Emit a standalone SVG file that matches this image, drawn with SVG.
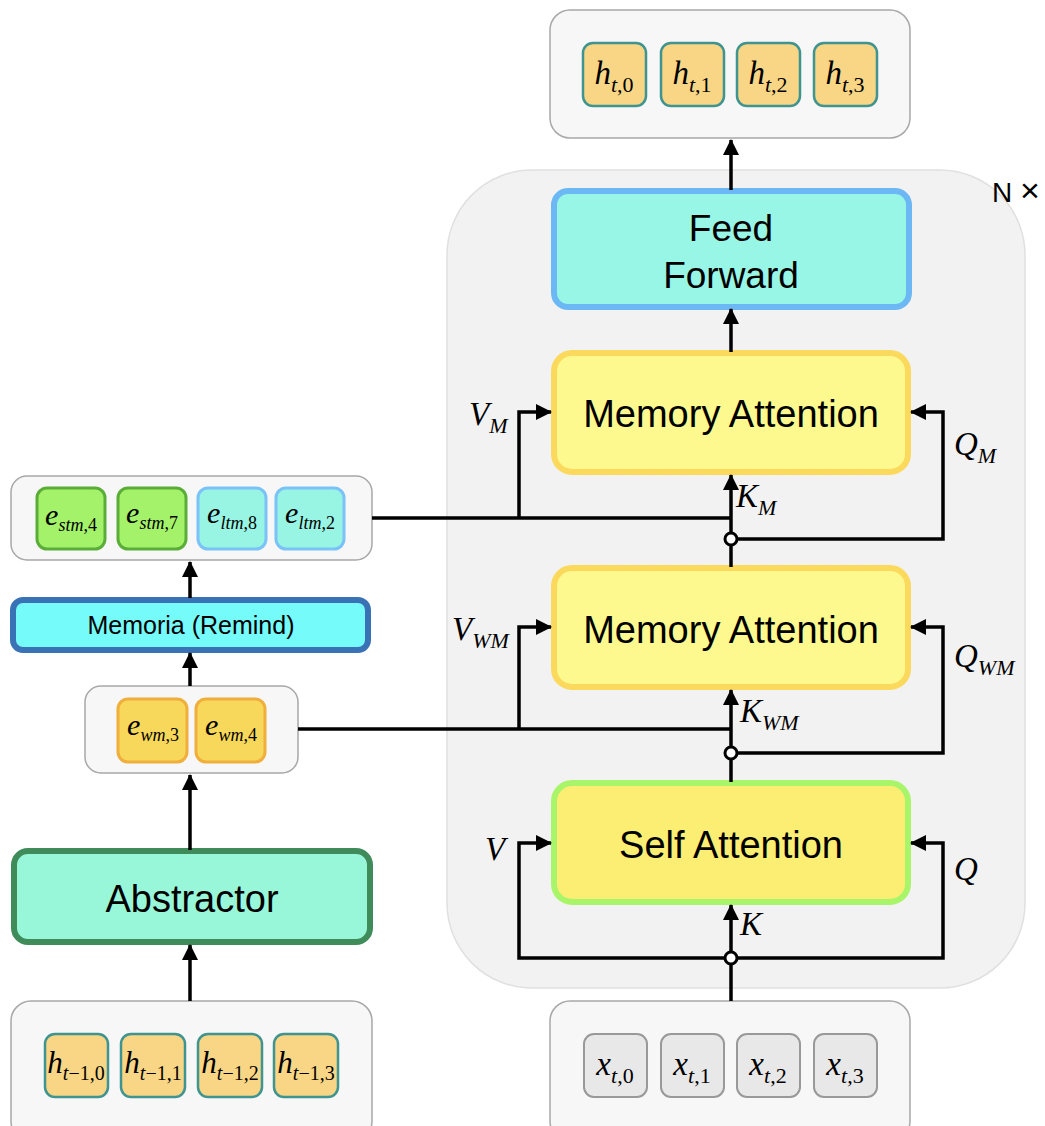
<svg xmlns="http://www.w3.org/2000/svg" width="1045" height="1126" viewBox="0 0 1045 1126">
<defs>
<marker id="ah" markerUnits="userSpaceOnUse" markerWidth="18" markerHeight="16" refX="15" refY="8" orient="auto">
<path d="M0,0 L16,8 L0,16 z" fill="#000"/>
</marker>
<style>
.cont{fill:#f7f7f7;stroke:#a8a8a8;stroke-width:1.5}
.tokh{fill:#f8d686;stroke:#3f9490;stroke-width:2.5}
.tokx{fill:#e8e8e8;stroke:#999;stroke-width:2}
.toks{fill:#a4f26a;stroke:#5aae38;stroke-width:3}
.tokl{fill:#98f5e4;stroke:#7ac2f7;stroke-width:3}
.tokw{fill:#f8d85a;stroke:#f0ae3c;stroke-width:3}
.ma{fill:#fdf98f;stroke:#fbd95c;stroke-width:6}
.sa{fill:#fbee73;stroke:#a8f56a;stroke-width:6}
.ff{fill:#98f6e6;stroke:#6cb8f5;stroke-width:6}
.sans{font-family:"Liberation Sans",Arial,sans-serif;fill:#000}
.m{font-family:"Liberation Serif","Times New Roman",serif;fill:#000}
.it{font-style:italic}
.ln{fill:none;stroke:#000;stroke-width:3.5}
.arr{fill:none;stroke:#000;stroke-width:3.5;marker-end:url(#ah)}
.dot{fill:#fff;stroke:#000;stroke-width:3}
</style>
</defs>

<g id="panel">
<rect x="447" y="170" width="578" height="818" rx="85" fill="#f2f2f2" stroke="#e0e0e0" stroke-width="1.5"/>
<text x="992" y="202" class="sans" font-size="28">N <tspan font-size="34">×</tspan></text>
</g>

<g id="output">
<rect class="cont" x="550" y="10" width="360" height="128" rx="20"/>
<rect class="tokh" x="583" y="43" width="63" height="63" rx="10"/>
<rect class="tokh" x="661" y="43" width="63" height="63" rx="10"/>
<rect class="tokh" x="737" y="43" width="63" height="63" rx="10"/>
<rect class="tokh" x="814" y="43" width="63" height="63" rx="10"/>
<text class="m" font-size="33" text-anchor="middle" x="614" y="84"><tspan class="it">h</tspan><tspan font-size="22" dy="8"><tspan class="it">t</tspan>,0</tspan></text>
<text class="m" font-size="33" text-anchor="middle" x="692" y="84"><tspan class="it">h</tspan><tspan font-size="22" dy="8"><tspan class="it">t</tspan>,1</tspan></text>
<text class="m" font-size="33" text-anchor="middle" x="768" y="84"><tspan class="it">h</tspan><tspan font-size="22" dy="8"><tspan class="it">t</tspan>,2</tspan></text>
<text class="m" font-size="33" text-anchor="middle" x="845" y="84"><tspan class="it">h</tspan><tspan font-size="22" dy="8"><tspan class="it">t</tspan>,3</tspan></text>
</g>

<g id="feedforward">
<rect class="ff" x="554" y="191" width="355" height="116" rx="14"/>
<text class="sans" font-size="37" text-anchor="middle" x="731" y="241">Feed</text>
<text class="sans" font-size="37" text-anchor="middle" x="731" y="288">Forward</text>
</g>

<g id="memattn1">
<rect class="ma" x="554" y="353" width="354" height="119" rx="18"/>
<text class="sans" font-size="38" text-anchor="middle" x="731" y="427">Memory Attention</text>
</g>

<g id="memattn2">
<rect class="ma" x="554" y="568" width="354" height="119" rx="18"/>
<text class="sans" font-size="38" text-anchor="middle" x="731" y="643">Memory Attention</text>
</g>

<g id="selfattn">
<rect class="sa" x="554" y="783" width="354" height="119" rx="18"/>
<text class="sans" font-size="38" text-anchor="middle" x="731" y="858">Self Attention</text>
</g>

<g id="memory">
<rect class="cont" x="11" y="476" width="361" height="84" rx="16"/>
<rect class="toks" x="37" y="488" width="68" height="61" rx="10"/>
<rect class="toks" x="118" y="488" width="68" height="61" rx="10"/>
<rect class="tokl" x="198" y="488" width="68" height="61" rx="10"/>
<rect class="tokl" x="276" y="488" width="68" height="61" rx="10"/>
<text class="m" font-size="30" text-anchor="middle" x="71" y="525"><tspan class="it">e</tspan><tspan font-size="18" dy="6"><tspan class="it">stm</tspan>,4</tspan></text>
<text class="m" font-size="30" text-anchor="middle" x="152" y="523"><tspan class="it">e</tspan><tspan font-size="18" dy="6"><tspan class="it">stm</tspan>,7</tspan></text>
<text class="m" font-size="30" text-anchor="middle" x="232" y="523"><tspan class="it">e</tspan><tspan font-size="18" dy="6"><tspan class="it">ltm</tspan>,8</tspan></text>
<text class="m" font-size="30" text-anchor="middle" x="310" y="523"><tspan class="it">e</tspan><tspan font-size="18" dy="6"><tspan class="it">ltm</tspan>,2</tspan></text>
</g>

<g id="memoria">
<rect x="13" y="600" width="355" height="50" rx="10" fill="#76fbfb" stroke="#3a72b6" stroke-width="6"/>
<text class="sans" font-size="25" text-anchor="middle" x="191" y="634">Memoria (Remind)</text>
</g>

<g id="workingmem">
<rect class="cont" x="85" y="686" width="213" height="87" rx="16"/>
<rect class="tokw" x="118" y="699" width="69" height="63" rx="10"/>
<rect class="tokw" x="196" y="699" width="69" height="63" rx="10"/>
<text class="m" font-size="30" text-anchor="middle" x="153" y="735"><tspan class="it">e</tspan><tspan font-size="18" dy="6"><tspan class="it">wm</tspan>,3</tspan></text>
<text class="m" font-size="30" text-anchor="middle" x="231" y="735"><tspan class="it">e</tspan><tspan font-size="18" dy="6"><tspan class="it">wm</tspan>,4</tspan></text>
</g>

<g id="abstractor">
<rect x="14" y="851" width="356" height="91" rx="14" fill="#98f7d8" stroke="#3f8c5a" stroke-width="6"/>
<text class="sans" font-size="38" text-anchor="middle" x="192" y="912">Abstractor</text>
</g>

<g id="prevhidden">
<rect class="cont" x="11" y="1001" width="361" height="140" rx="20"/>
<rect class="tokh" x="45" y="1034" width="63" height="63" rx="10"/>
<rect class="tokh" x="121" y="1034" width="64" height="63" rx="10"/>
<rect class="tokh" x="198" y="1034" width="64" height="63" rx="10"/>
<rect class="tokh" x="274" y="1034" width="64" height="63" rx="10"/>
<text class="m" font-size="31" text-anchor="middle" x="76" y="1073"><tspan class="it">h</tspan><tspan font-size="20" dy="7"><tspan class="it">t</tspan>−1,0</tspan></text>
<text class="m" font-size="31" text-anchor="middle" x="153" y="1073"><tspan class="it">h</tspan><tspan font-size="20" dy="7"><tspan class="it">t</tspan>−1,1</tspan></text>
<text class="m" font-size="31" text-anchor="middle" x="230" y="1073"><tspan class="it">h</tspan><tspan font-size="20" dy="7"><tspan class="it">t</tspan>−1,2</tspan></text>
<text class="m" font-size="31" text-anchor="middle" x="306" y="1073"><tspan class="it">h</tspan><tspan font-size="20" dy="7"><tspan class="it">t</tspan>−1,3</tspan></text>
</g>

<g id="input">
<rect class="cont" x="550" y="1001" width="360" height="140" rx="20"/>
<rect class="tokx" x="584" y="1034" width="63" height="63" rx="10"/>
<rect class="tokx" x="661" y="1034" width="63" height="63" rx="10"/>
<rect class="tokx" x="737" y="1034" width="63" height="63" rx="10"/>
<rect class="tokx" x="814" y="1034" width="63" height="63" rx="10"/>
<text class="m" font-size="33" text-anchor="middle" x="615" y="1075"><tspan class="it">x</tspan><tspan font-size="22" dy="8"><tspan class="it">t</tspan>,0</tspan></text>
<text class="m" font-size="33" text-anchor="middle" x="692" y="1075"><tspan class="it">x</tspan><tspan font-size="22" dy="8"><tspan class="it">t</tspan>,1</tspan></text>
<text class="m" font-size="33" text-anchor="middle" x="768" y="1075"><tspan class="it">x</tspan><tspan font-size="22" dy="8"><tspan class="it">t</tspan>,2</tspan></text>
<text class="m" font-size="33" text-anchor="middle" x="845" y="1075"><tspan class="it">x</tspan><tspan font-size="22" dy="8"><tspan class="it">t</tspan>,3</tspan></text>
</g>

<g id="connectors">
<path class="arr" d="M731,190 L731,140"/>
<path class="arr" d="M731,352 L731,309"/>
<path class="ln" d="M372,518 L731,518"/>
<path class="arr" d="M731,539 L731,475"/>
<path class="arr" d="M519,518 L519,412 L551,412"/>
<path class="arr" d="M731,539 L943,539 L943,412 L911,412"/>
<path class="ln" d="M731,567 L731,539"/>
<path class="ln" d="M298,729 L731,729"/>
<path class="arr" d="M731,753 L731,690"/>
<path class="arr" d="M519,729 L519,627 L551,627"/>
<path class="arr" d="M731,753 L943,753 L943,627 L911,627"/>
<path class="ln" d="M731,782 L731,753"/>
<path class="ln" d="M731,1001 L731,958"/>
<path class="arr" d="M731,958 L731,905"/>
<path class="arr" d="M731,958 L519,958 L519,843 L551,843"/>
<path class="arr" d="M731,958 L943,958 L943,843 L911,843"/>
<path class="arr" d="M190,1001 L190,945"/>
<path class="arr" d="M190,850 L190,775"/>
<path class="arr" d="M190,686 L190,653"/>
<path class="arr" d="M190,598 L190,562"/>
<circle class="dot" cx="731" cy="539" r="6"/>
<circle class="dot" cx="731" cy="753" r="6"/>
<circle class="dot" cx="731" cy="958" r="6"/>
<text class="m it" font-size="33" x="469" y="425">V<tspan font-size="22" dy="8">M</tspan></text>
<text class="m it" font-size="33" x="452" y="640">V<tspan font-size="22" dy="8">WM</tspan></text>
<text class="m it" font-size="33" x="485" y="860">V</text>
<text class="m it" font-size="33" x="736" y="507">K<tspan font-size="22" dy="8">M</tspan></text>
<text class="m it" font-size="33" x="740" y="722">K<tspan font-size="22" dy="8">WM</tspan></text>
<text class="m it" font-size="33" x="740" y="935">K</text>
<text class="m it" font-size="33" x="954" y="455">Q<tspan font-size="22" dy="8">M</tspan></text>
<text class="m it" font-size="33" x="954" y="667">Q<tspan font-size="22" dy="8">WM</tspan></text>
<text class="m it" font-size="33" x="954" y="880">Q</text>
</g>
</svg>
